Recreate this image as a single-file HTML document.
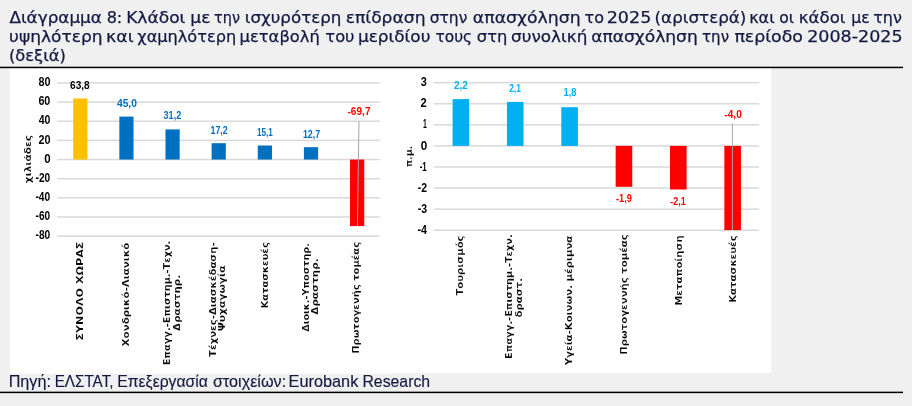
<!DOCTYPE html>
<html lang="el"><head><meta charset="utf-8"><title>Διάγραμμα 8</title>
<style>
html,body{margin:0;padding:0;width:912px;height:406px;overflow:hidden;background:#f0f0f0;}
svg{display:block;will-change:transform;}
</style></head><body>
<svg width="912" height="406" viewBox="0 0 912 406">
<rect x="0" y="0" width="912" height="406" fill="#f0f0f0"/>
<text id="t0_0" x="9.40" y="22.80" font-family="'DejaVu Sans', sans-serif" font-size="16.3" font-weight="normal" fill="#141943" stroke="#141943" stroke-width="0.25" textLength="92.53" lengthAdjust="spacingAndGlyphs">Διάγραμμα</text>
<text id="t0_1" x="106.64" y="22.80" font-family="'DejaVu Sans', sans-serif" font-size="16.3" font-weight="normal" fill="#141943" stroke="#141943" stroke-width="0.25" textLength="15.62" lengthAdjust="spacingAndGlyphs">8:</text>
<text id="t0_2" x="126.15" y="22.80" font-family="'DejaVu Sans', sans-serif" font-size="16.3" font-weight="normal" fill="#141943" stroke="#141943" stroke-width="0.25" textLength="59.27" lengthAdjust="spacingAndGlyphs">Κλάδοι</text>
<text id="t0_3" x="190.36" y="22.80" font-family="'DejaVu Sans', sans-serif" font-size="16.3" font-weight="normal" fill="#141943" stroke="#141943" stroke-width="0.25" textLength="20.09" lengthAdjust="spacingAndGlyphs">με</text>
<text id="t0_4" x="214.08" y="22.80" font-family="'DejaVu Sans', sans-serif" font-size="16.3" font-weight="normal" fill="#141943" stroke="#141943" stroke-width="0.25" textLength="25.87" lengthAdjust="spacingAndGlyphs">την</text>
<text id="t0_5" x="244.85" y="22.80" font-family="'DejaVu Sans', sans-serif" font-size="16.3" font-weight="normal" fill="#141943" stroke="#141943" stroke-width="0.25" textLength="96.52" lengthAdjust="spacingAndGlyphs">ισχυρότερη</text>
<text id="t0_6" x="345.74" y="22.80" font-family="'DejaVu Sans', sans-serif" font-size="16.3" font-weight="normal" fill="#141943" stroke="#141943" stroke-width="0.25" textLength="79.81" lengthAdjust="spacingAndGlyphs">επίδραση</text>
<text id="t0_7" x="429.69" y="22.80" font-family="'DejaVu Sans', sans-serif" font-size="16.3" font-weight="normal" fill="#141943" stroke="#141943" stroke-width="0.25" textLength="37.69" lengthAdjust="spacingAndGlyphs">στην</text>
<text id="t0_8" x="472.84" y="22.80" font-family="'DejaVu Sans', sans-serif" font-size="16.3" font-weight="normal" fill="#141943" stroke="#141943" stroke-width="0.25" textLength="107.87" lengthAdjust="spacingAndGlyphs">απασχόληση</text>
<text id="t0_9" x="584.54" y="22.80" font-family="'DejaVu Sans', sans-serif" font-size="16.3" font-weight="normal" fill="#141943" stroke="#141943" stroke-width="0.25" textLength="19.43" lengthAdjust="spacingAndGlyphs">το</text>
<text id="t0_10" x="606.74" y="22.80" font-family="'DejaVu Sans', sans-serif" font-size="16.3" font-weight="normal" fill="#141943" stroke="#141943" stroke-width="0.25" textLength="44.55" lengthAdjust="spacingAndGlyphs">2025</text>
<text id="t0_11" x="654.60" y="22.80" font-family="'DejaVu Sans', sans-serif" font-size="16.3" font-weight="normal" fill="#141943" stroke="#141943" stroke-width="0.25" textLength="91.78" lengthAdjust="spacingAndGlyphs">(αριστερά)</text>
<text id="t0_12" x="749.16" y="22.80" font-family="'DejaVu Sans', sans-serif" font-size="16.3" font-weight="normal" fill="#141943" stroke="#141943" stroke-width="0.25" textLength="25.49" lengthAdjust="spacingAndGlyphs">και</text>
<text id="t0_13" x="779.13" y="22.80" font-family="'DejaVu Sans', sans-serif" font-size="16.3" font-weight="normal" fill="#141943" stroke="#141943" stroke-width="0.25" textLength="14.84" lengthAdjust="spacingAndGlyphs">οι</text>
<text id="t0_14" x="798.85" y="22.80" font-family="'DejaVu Sans', sans-serif" font-size="16.3" font-weight="normal" fill="#141943" stroke="#141943" stroke-width="0.25" textLength="46.59" lengthAdjust="spacingAndGlyphs">κάδοι</text>
<text id="t0_15" x="851.29" y="22.80" font-family="'DejaVu Sans', sans-serif" font-size="16.3" font-weight="normal" fill="#141943" stroke="#141943" stroke-width="0.25" textLength="18.49" lengthAdjust="spacingAndGlyphs">με</text>
<text id="t0_16" x="873.20" y="22.80" font-family="'DejaVu Sans', sans-serif" font-size="16.3" font-weight="normal" fill="#141943" stroke="#141943" stroke-width="0.25" textLength="28.67" lengthAdjust="spacingAndGlyphs">την</text>
<text id="t1_0" x="9.12" y="41.90" font-family="'DejaVu Sans', sans-serif" font-size="16.3" font-weight="normal" fill="#141943" stroke="#141943" stroke-width="0.25" textLength="93.51" lengthAdjust="spacingAndGlyphs">υψηλότερη</text>
<text id="t1_1" x="106.10" y="41.90" font-family="'DejaVu Sans', sans-serif" font-size="16.3" font-weight="normal" fill="#141943" stroke="#141943" stroke-width="0.25" textLength="27.60" lengthAdjust="spacingAndGlyphs">και</text>
<text id="t1_2" x="137.31" y="41.90" font-family="'DejaVu Sans', sans-serif" font-size="16.3" font-weight="normal" fill="#141943" stroke="#141943" stroke-width="0.25" textLength="98.89" lengthAdjust="spacingAndGlyphs">χαμηλότερη</text>
<text id="t1_3" x="239.61" y="41.90" font-family="'DejaVu Sans', sans-serif" font-size="16.3" font-weight="normal" fill="#141943" stroke="#141943" stroke-width="0.25" textLength="80.15" lengthAdjust="spacingAndGlyphs">μεταβολή</text>
<text id="t1_4" x="325.36" y="41.90" font-family="'DejaVu Sans', sans-serif" font-size="16.3" font-weight="normal" fill="#141943" stroke="#141943" stroke-width="0.25" textLength="29.19" lengthAdjust="spacingAndGlyphs">του</text>
<text id="t1_5" x="357.94" y="41.90" font-family="'DejaVu Sans', sans-serif" font-size="16.3" font-weight="normal" fill="#141943" stroke="#141943" stroke-width="0.25" textLength="72.50" lengthAdjust="spacingAndGlyphs">μεριδίου</text>
<text id="t1_6" x="435.39" y="41.90" font-family="'DejaVu Sans', sans-serif" font-size="16.3" font-weight="normal" fill="#141943" stroke="#141943" stroke-width="0.25" textLength="36.80" lengthAdjust="spacingAndGlyphs">τους</text>
<text id="t1_7" x="476.79" y="41.90" font-family="'DejaVu Sans', sans-serif" font-size="16.3" font-weight="normal" fill="#141943" stroke="#141943" stroke-width="0.25" textLength="30.54" lengthAdjust="spacingAndGlyphs">στη</text>
<text id="t1_8" x="511.02" y="41.90" font-family="'DejaVu Sans', sans-serif" font-size="16.3" font-weight="normal" fill="#141943" stroke="#141943" stroke-width="0.25" textLength="76.34" lengthAdjust="spacingAndGlyphs">συνολική</text>
<text id="t1_9" x="591.17" y="41.90" font-family="'DejaVu Sans', sans-serif" font-size="16.3" font-weight="normal" fill="#141943" stroke="#141943" stroke-width="0.25" textLength="106.61" lengthAdjust="spacingAndGlyphs">απασχόληση</text>
<text id="t1_10" x="702.06" y="41.90" font-family="'DejaVu Sans', sans-serif" font-size="16.3" font-weight="normal" fill="#141943" stroke="#141943" stroke-width="0.25" textLength="26.98" lengthAdjust="spacingAndGlyphs">την</text>
<text id="t1_11" x="734.41" y="41.90" font-family="'DejaVu Sans', sans-serif" font-size="16.3" font-weight="normal" fill="#141943" stroke="#141943" stroke-width="0.25" textLength="68.55" lengthAdjust="spacingAndGlyphs">περίοδο</text>
<text id="t1_12" x="807.17" y="41.90" font-family="'DejaVu Sans', sans-serif" font-size="16.3" font-weight="normal" fill="#141943" stroke="#141943" stroke-width="0.25" textLength="95.38" lengthAdjust="spacingAndGlyphs">2008-2025</text>
<text id="t2_0" x="8.92" y="61.40" font-family="'DejaVu Sans', sans-serif" font-size="16.3" font-weight="normal" fill="#141943" stroke="#141943" stroke-width="0.25" textLength="56.98" lengthAdjust="spacingAndGlyphs">(δεξιά)</text>
<rect x="0" y="66.7" width="903" height="1.5" fill="#000"/>
<rect x="9.8" y="68.8" width="761.5" height="304.2" fill="#fff"/>
<rect x="9.8" y="372.5" width="382.2" height="1.3" fill="#fff"/>
<text id="s0" x="8.65" y="387.00" font-family="'Liberation Sans', Arial, sans-serif" font-size="15.7" font-weight="normal" fill="#141943" stroke="#141943" stroke-width="0.15" textLength="42.35" lengthAdjust="spacingAndGlyphs">Πηγή:</text>
<text id="s1" x="54.63" y="387.00" font-family="'Liberation Sans', Arial, sans-serif" font-size="15.7" font-weight="normal" fill="#141943" stroke="#141943" stroke-width="0.15" textLength="58.90" lengthAdjust="spacingAndGlyphs">ΕΛΣΤΑΤ,</text>
<text id="s2" x="117.23" y="387.00" font-family="'Liberation Sans', Arial, sans-serif" font-size="15.7" font-weight="normal" fill="#141943" stroke="#141943" stroke-width="0.15" textLength="90.69" lengthAdjust="spacingAndGlyphs">Επεξεργασία</text>
<text id="s3" x="212.96" y="387.00" font-family="'Liberation Sans', Arial, sans-serif" font-size="15.7" font-weight="normal" fill="#141943" stroke="#141943" stroke-width="0.15" textLength="73.19" lengthAdjust="spacingAndGlyphs">στοιχείων:</text>
<text id="s4" x="288.64" y="387.00" font-family="'Liberation Sans', Arial, sans-serif" font-size="15.7" font-weight="normal" fill="#141943" stroke="#141943" stroke-width="0.15" textLength="69.67" lengthAdjust="spacingAndGlyphs">Eurobank</text>
<text id="s5" x="362.41" y="387.00" font-family="'Liberation Sans', Arial, sans-serif" font-size="15.7" font-weight="normal" fill="#141943" stroke="#141943" stroke-width="0.15" textLength="67.73" lengthAdjust="spacingAndGlyphs">Research</text>
<rect x="0" y="391.65" width="903" height="1.5" fill="#000"/>
<rect x="57.3" y="82.20" width="322.5" height="1.5" fill="#d9d9d9"/>
<rect x="57.3" y="101.35" width="322.5" height="1.5" fill="#d9d9d9"/>
<rect x="57.3" y="120.50" width="322.5" height="1.5" fill="#d9d9d9"/>
<rect x="57.3" y="139.65" width="322.5" height="1.5" fill="#d9d9d9"/>
<rect x="57.3" y="158.80" width="322.5" height="1.5" fill="#d9d9d9"/>
<rect x="57.3" y="177.95" width="322.5" height="1.5" fill="#d9d9d9"/>
<rect x="57.3" y="197.10" width="322.5" height="1.5" fill="#d9d9d9"/>
<rect x="57.3" y="216.25" width="322.5" height="1.5" fill="#d9d9d9"/>
<rect x="57.3" y="235.40" width="322.5" height="1.5" fill="#d9d9d9"/>
<text id="ly80" x="38.49" y="86.05" font-family="'Liberation Sans', Arial, sans-serif" font-size="12" font-weight="bold" fill="#000" textLength="12.04" lengthAdjust="spacingAndGlyphs">80</text>
<text id="ly60" x="38.40" y="105.20" font-family="'Liberation Sans', Arial, sans-serif" font-size="12" font-weight="bold" fill="#000" textLength="11.96" lengthAdjust="spacingAndGlyphs">60</text>
<text id="ly40" x="38.71" y="124.35" font-family="'Liberation Sans', Arial, sans-serif" font-size="12" font-weight="bold" fill="#000" textLength="11.70" lengthAdjust="spacingAndGlyphs">40</text>
<text id="ly20" x="38.50" y="143.50" font-family="'Liberation Sans', Arial, sans-serif" font-size="12" font-weight="bold" fill="#000" textLength="12.07" lengthAdjust="spacingAndGlyphs">20</text>
<text id="ly0" x="44.25" y="162.65" font-family="'Liberation Sans', Arial, sans-serif" font-size="12" font-weight="bold" fill="#000" textLength="6.40" lengthAdjust="spacingAndGlyphs">0</text>
<text id="ly-20" x="35.53" y="181.80" font-family="'Liberation Sans', Arial, sans-serif" font-size="12" font-weight="bold" fill="#000" textLength="14.61" lengthAdjust="spacingAndGlyphs">-20</text>
<text id="ly-40" x="35.46" y="200.95" font-family="'Liberation Sans', Arial, sans-serif" font-size="12" font-weight="bold" fill="#000" textLength="14.72" lengthAdjust="spacingAndGlyphs">-40</text>
<text id="ly-60" x="35.61" y="220.10" font-family="'Liberation Sans', Arial, sans-serif" font-size="12" font-weight="bold" fill="#000" textLength="14.59" lengthAdjust="spacingAndGlyphs">-60</text>
<text id="ly-80" x="35.51" y="239.25" font-family="'Liberation Sans', Arial, sans-serif" font-size="12" font-weight="bold" fill="#000" textLength="14.72" lengthAdjust="spacingAndGlyphs">-80</text>
<rect x="73.20" y="98.50" width="14.2" height="61.05" fill="#FFC000"/>
<rect x="119.34" y="116.60" width="14.2" height="42.95" fill="#0070C0"/>
<rect x="165.48" y="129.40" width="14.2" height="30.15" fill="#0070C0"/>
<rect x="211.62" y="143.20" width="14.2" height="16.35" fill="#0070C0"/>
<rect x="257.76" y="145.50" width="14.2" height="14.05" fill="#0070C0"/>
<rect x="303.90" y="147.20" width="14.2" height="12.35" fill="#0070C0"/>
<rect x="350.04" y="159.55" width="14.2" height="66.55" fill="#FF0000"/>
<line x1="359.0" y1="121.2" x2="357.4" y2="226" stroke="#a6a6a6" stroke-width="1"/>
<text id="ld0" x="70.03" y="88.80" font-family="'Liberation Sans', Arial, sans-serif" font-size="11.5" font-weight="bold" fill="#000" textLength="19.73" lengthAdjust="spacingAndGlyphs">63,8</text>
<text id="ld1" x="116.92" y="106.50" font-family="'Liberation Sans', Arial, sans-serif" font-size="11.5" font-weight="bold" fill="#0070C0" textLength="20.02" lengthAdjust="spacingAndGlyphs">45,0</text>
<text id="ld2" x="163.57" y="119.20" font-family="'Liberation Sans', Arial, sans-serif" font-size="11.5" font-weight="bold" fill="#0070C0" textLength="17.69" lengthAdjust="spacingAndGlyphs">31,2</text>
<text id="ld3" x="210.43" y="133.60" font-family="'Liberation Sans', Arial, sans-serif" font-size="11.5" font-weight="bold" fill="#0070C0" textLength="17.39" lengthAdjust="spacingAndGlyphs">17,2</text>
<text id="ld4" x="256.96" y="135.60" font-family="'Liberation Sans', Arial, sans-serif" font-size="11.5" font-weight="bold" fill="#0070C0" textLength="15.70" lengthAdjust="spacingAndGlyphs">15,1</text>
<text id="ld5" x="302.91" y="138.00" font-family="'Liberation Sans', Arial, sans-serif" font-size="11.5" font-weight="bold" fill="#0070C0" textLength="17.20" lengthAdjust="spacingAndGlyphs">12,7</text>
<text id="ld6" x="347.47" y="114.50" font-family="'Liberation Sans', Arial, sans-serif" font-size="11.5" font-weight="bold" fill="#FF0000" textLength="23.04" lengthAdjust="spacingAndGlyphs">-69,7</text>
<text id="lyt" transform="translate(30.60,159.13) rotate(-90)" x="0" y="0" font-family="'DejaVu Sans', sans-serif" font-size="8.4" font-weight="bold" fill="#000" stroke="#fff" stroke-width="0.15" text-anchor="middle" textLength="48.29" lengthAdjust="spacingAndGlyphs">χιλιάδες</text>
<text id="lx0_0" transform="translate(82.60,291.05) rotate(-90)" x="0" y="0" font-family="'DejaVu Sans', sans-serif" font-size="9.0" font-weight="bold" fill="#000" stroke="#fff" stroke-width="0.15" text-anchor="middle" textLength="99.10" lengthAdjust="spacingAndGlyphs">ΣΥΝΟΛΟ ΧΩΡΑΣ</text>
<text id="lx1_0" transform="translate(128.60,294.56) rotate(-90)" x="0" y="0" font-family="'DejaVu Sans', sans-serif" font-size="9.0" font-weight="bold" fill="#000" stroke="#fff" stroke-width="0.15" text-anchor="middle" textLength="103.68" lengthAdjust="spacingAndGlyphs">Χονδρικό-Λιανικό</text>
<text id="lx2_0" transform="translate(169.90,303.06) rotate(-90)" x="0" y="0" font-family="'DejaVu Sans', sans-serif" font-size="9.0" font-weight="bold" fill="#000" stroke="#fff" stroke-width="0.15" text-anchor="middle" textLength="124.65" lengthAdjust="spacingAndGlyphs">Επαγγ.-Επιστημ.-Τεχν.</text>
<text id="lx2_1" transform="translate(179.60,302.87) rotate(-90)" x="0" y="0" font-family="'DejaVu Sans', sans-serif" font-size="9.0" font-weight="bold" fill="#000" stroke="#fff" stroke-width="0.15" text-anchor="middle" textLength="56.08" lengthAdjust="spacingAndGlyphs">Δραστηρ.</text>
<text id="lx3_0" transform="translate(216.10,299.60) rotate(-90)" x="0" y="0" font-family="'DejaVu Sans', sans-serif" font-size="9.0" font-weight="bold" fill="#000" stroke="#fff" stroke-width="0.15" text-anchor="middle" textLength="114.57" lengthAdjust="spacingAndGlyphs">Τέχνες-Διασκέδαση-</text>
<text id="lx3_1" transform="translate(225.40,298.36) rotate(-90)" x="0" y="0" font-family="'DejaVu Sans', sans-serif" font-size="9.0" font-weight="bold" fill="#000" stroke="#fff" stroke-width="0.15" text-anchor="middle" textLength="65.89" lengthAdjust="spacingAndGlyphs">Ψυχαγωγία</text>
<text id="lx4_0" transform="translate(268.40,275.32) rotate(-90)" x="0" y="0" font-family="'DejaVu Sans', sans-serif" font-size="9.0" font-weight="bold" fill="#000" stroke="#fff" stroke-width="0.15" text-anchor="middle" textLength="66.21" lengthAdjust="spacingAndGlyphs">Κατασκευές</text>
<text id="lx5_0" transform="translate(308.80,287.45) rotate(-90)" x="0" y="0" font-family="'DejaVu Sans', sans-serif" font-size="9.0" font-weight="bold" fill="#000" stroke="#fff" stroke-width="0.15" text-anchor="middle" textLength="88.79" lengthAdjust="spacingAndGlyphs">Διοικ.-Υποστηρ.</text>
<text id="lx5_1" transform="translate(318.20,286.51) rotate(-90)" x="0" y="0" font-family="'DejaVu Sans', sans-serif" font-size="9.0" font-weight="bold" fill="#000" stroke="#fff" stroke-width="0.15" text-anchor="middle" textLength="56.29" lengthAdjust="spacingAndGlyphs">Δραστηρ.</text>
<text id="lx6_0" transform="translate(358.70,297.89) rotate(-90)" x="0" y="0" font-family="'DejaVu Sans', sans-serif" font-size="9.0" font-weight="bold" fill="#000" stroke="#fff" stroke-width="0.15" text-anchor="middle" textLength="111.86" lengthAdjust="spacingAndGlyphs">Πρωτογενής τομέας</text>
<rect x="433.8" y="81.91" width="325.4" height="1.5" fill="#d9d9d9"/>
<rect x="433.8" y="102.99" width="325.4" height="1.5" fill="#d9d9d9"/>
<rect x="433.8" y="124.07" width="325.4" height="1.5" fill="#d9d9d9"/>
<rect x="433.8" y="145.15" width="325.4" height="1.5" fill="#d9d9d9"/>
<rect x="433.8" y="166.23" width="325.4" height="1.5" fill="#d9d9d9"/>
<rect x="433.8" y="187.31" width="325.4" height="1.5" fill="#d9d9d9"/>
<rect x="433.8" y="208.39" width="325.4" height="1.5" fill="#d9d9d9"/>
<rect x="433.8" y="229.47" width="325.4" height="1.5" fill="#d9d9d9"/>
<text id="ry3" x="420.63" y="86.26" font-family="'Liberation Sans', Arial, sans-serif" font-size="12" font-weight="bold" fill="#000" textLength="6.11" lengthAdjust="spacingAndGlyphs">3</text>
<text id="ry2" x="420.54" y="107.34" font-family="'Liberation Sans', Arial, sans-serif" font-size="12" font-weight="bold" fill="#000" textLength="6.25" lengthAdjust="spacingAndGlyphs">2</text>
<text id="ry1" x="422.94" y="128.42" font-family="'Liberation Sans', Arial, sans-serif" font-size="12" font-weight="bold" fill="#000" textLength="3.82" lengthAdjust="spacingAndGlyphs">1</text>
<text id="ry0" x="420.68" y="149.50" font-family="'Liberation Sans', Arial, sans-serif" font-size="12" font-weight="bold" fill="#000" textLength="6.51" lengthAdjust="spacingAndGlyphs">0</text>
<text id="ry-1" x="419.63" y="170.58" font-family="'Liberation Sans', Arial, sans-serif" font-size="12" font-weight="bold" fill="#000" textLength="7.06" lengthAdjust="spacingAndGlyphs">-1</text>
<text id="ry-2" x="417.76" y="191.66" font-family="'Liberation Sans', Arial, sans-serif" font-size="12" font-weight="bold" fill="#000" textLength="9.24" lengthAdjust="spacingAndGlyphs">-2</text>
<text id="ry-3" x="417.82" y="212.74" font-family="'Liberation Sans', Arial, sans-serif" font-size="12" font-weight="bold" fill="#000" textLength="9.31" lengthAdjust="spacingAndGlyphs">-3</text>
<text id="ry-4" x="417.50" y="233.82" font-family="'Liberation Sans', Arial, sans-serif" font-size="12" font-weight="bold" fill="#000" textLength="9.51" lengthAdjust="spacingAndGlyphs">-4</text>
<rect x="452.60" y="99.10" width="16.6" height="46.80" fill="#00B0F0"/>
<rect x="506.95" y="101.90" width="16.6" height="44.00" fill="#00B0F0"/>
<rect x="561.30" y="107.20" width="16.6" height="38.70" fill="#00B0F0"/>
<rect x="615.65" y="145.90" width="16.6" height="40.90" fill="#FF0000"/>
<rect x="670.00" y="145.90" width="16.6" height="43.60" fill="#FF0000"/>
<rect x="724.35" y="145.90" width="16.6" height="84.20" fill="#FF0000"/>
<line x1="732.4" y1="123.4" x2="732.4" y2="230" stroke="#a6a6a6" stroke-width="1"/>
<text id="rd0" x="453.91" y="88.90" font-family="'Liberation Sans', Arial, sans-serif" font-size="11.5" font-weight="bold" fill="#00B0F0" textLength="13.87" lengthAdjust="spacingAndGlyphs">2,2</text>
<text id="rd1" x="509.13" y="91.60" font-family="'Liberation Sans', Arial, sans-serif" font-size="11.5" font-weight="bold" fill="#00B0F0" textLength="11.76" lengthAdjust="spacingAndGlyphs">2,1</text>
<text id="rd2" x="563.50" y="96.30" font-family="'Liberation Sans', Arial, sans-serif" font-size="11.5" font-weight="bold" fill="#00B0F0" textLength="13.00" lengthAdjust="spacingAndGlyphs">1,8</text>
<text id="rd3" x="616.03" y="202.10" font-family="'Liberation Sans', Arial, sans-serif" font-size="11.5" font-weight="bold" fill="#FF0000" textLength="15.99" lengthAdjust="spacingAndGlyphs">-1,9</text>
<text id="rd4" x="670.32" y="204.60" font-family="'Liberation Sans', Arial, sans-serif" font-size="11.5" font-weight="bold" fill="#FF0000" textLength="15.45" lengthAdjust="spacingAndGlyphs">-2,1</text>
<text id="rd5" x="724.35" y="118.00" font-family="'Liberation Sans', Arial, sans-serif" font-size="11.5" font-weight="bold" fill="#FF0000" textLength="17.51" lengthAdjust="spacingAndGlyphs">-4,0</text>
<text id="ryt" transform="translate(411.70,156.52) rotate(-90)" x="0" y="0" font-family="'DejaVu Sans', sans-serif" font-size="8.6" font-weight="bold" fill="#000" stroke="#fff" stroke-width="0.15" text-anchor="middle" textLength="21.53" lengthAdjust="spacingAndGlyphs">π.μ.</text>
<text id="rx0_0" transform="translate(463.30,265.52) rotate(-90)" x="0" y="0" font-family="'DejaVu Sans', sans-serif" font-size="9.0" font-weight="bold" fill="#000" stroke="#fff" stroke-width="0.15" text-anchor="middle" textLength="60.20" lengthAdjust="spacingAndGlyphs">Τουρισμός</text>
<text id="rx1_0" transform="translate(512.30,296.65) rotate(-90)" x="0" y="0" font-family="'DejaVu Sans', sans-serif" font-size="9.0" font-weight="bold" fill="#000" stroke="#fff" stroke-width="0.15" text-anchor="middle" textLength="124.61" lengthAdjust="spacingAndGlyphs">Επαγγ.-Επιστημ.-Τεχν.</text>
<text id="rx1_1" transform="translate(522.00,297.70) rotate(-90)" x="0" y="0" font-family="'DejaVu Sans', sans-serif" font-size="9.0" font-weight="bold" fill="#000" stroke="#fff" stroke-width="0.15" text-anchor="middle" textLength="39.46" lengthAdjust="spacingAndGlyphs">δραστ.</text>
<text id="rx2_0" transform="translate(572.20,300.48) rotate(-90)" x="0" y="0" font-family="'DejaVu Sans', sans-serif" font-size="9.0" font-weight="bold" fill="#000" stroke="#fff" stroke-width="0.15" text-anchor="middle" textLength="129.61" lengthAdjust="spacingAndGlyphs">Υγεία-Κοινων. μέριμνα</text>
<text id="rx3_0" transform="translate(627.30,294.51) rotate(-90)" x="0" y="0" font-family="'DejaVu Sans', sans-serif" font-size="9.0" font-weight="bold" fill="#000" stroke="#fff" stroke-width="0.15" text-anchor="middle" textLength="120.53" lengthAdjust="spacingAndGlyphs">Πρωτογεννής τομέας</text>
<text id="rx4_0" transform="translate(681.90,270.58) rotate(-90)" x="0" y="0" font-family="'DejaVu Sans', sans-serif" font-size="9.0" font-weight="bold" fill="#000" stroke="#fff" stroke-width="0.15" text-anchor="middle" textLength="70.39" lengthAdjust="spacingAndGlyphs">Μεταποίηση</text>
<text id="rx5_0" transform="translate(735.70,269.03) rotate(-90)" x="0" y="0" font-family="'DejaVu Sans', sans-serif" font-size="9.0" font-weight="bold" fill="#000" stroke="#fff" stroke-width="0.15" text-anchor="middle" textLength="67.48" lengthAdjust="spacingAndGlyphs">Κατασκευές</text>
</svg>
</body></html>
